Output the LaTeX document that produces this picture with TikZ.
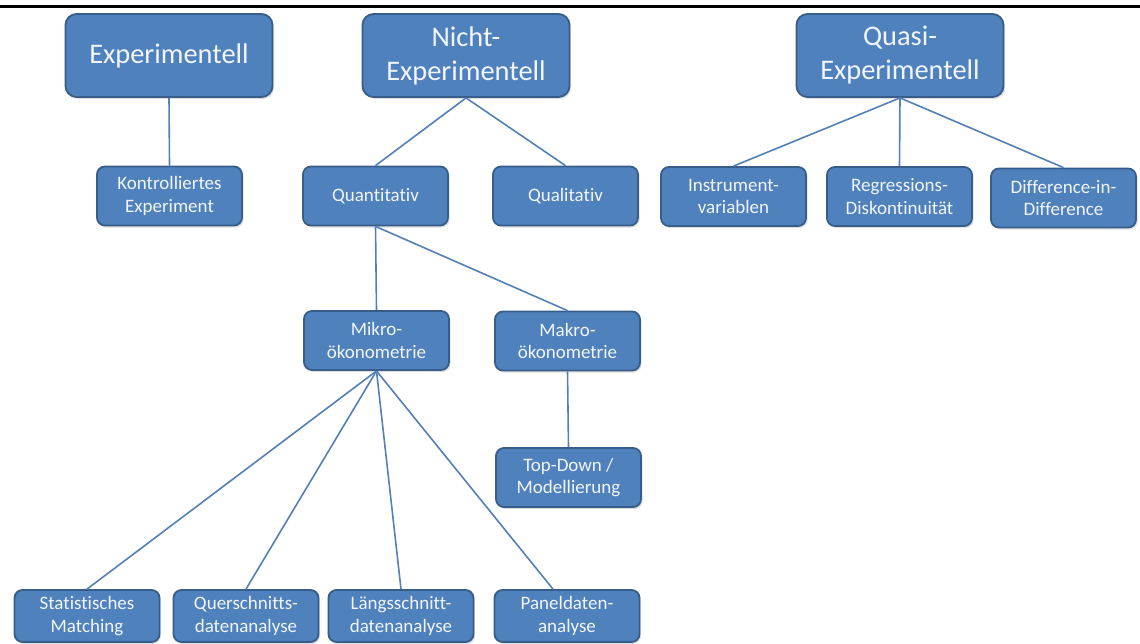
\documentclass[tikz,border=0pt]{standalone}
\usepackage{fontspec}
\setmainfont{Carlito}[Ligatures=NoCommon]
\usetikzlibrary{shadows}
\definecolor{boxfill}{RGB}{79,129,189}
\definecolor{boxdraw}{RGB}{56,93,138}
\definecolor{linkc}{RGB}{84,128,184}
\definecolor{txtc}{RGB}{242,246,252}
\tikzset{
  bigbox/.style={draw=boxdraw, line width=1.8pt, fill=boxfill, rounded corners=11pt,
    minimum width=207pt, minimum height=83pt, align=center, text=txtc,
    font=\fontsize{28.4}{34}\selectfont, inner sep=0pt,
    drop shadow={opacity=0.25, shadow xshift=1.5pt, shadow yshift=-2pt}},
  smallbox/.style={draw=boxdraw, line width=1.8pt, fill=boxfill, rounded corners=8pt,
    minimum width=145pt, minimum height=59pt, align=center, text=txtc,
    font=\fontsize{19}{22.8}\selectfont, inner sep=0pt,
    drop shadow={opacity=0.25, shadow xshift=1.5pt, shadow yshift=-2pt}},
  lowbox/.style={smallbox, minimum height=52pt},
  link/.style={draw=linkc, line width=1.6pt}
}
\begin{document}
\begin{tikzpicture}[x=1pt,y=-1pt]
\useasboundingbox (0,0) rectangle (1140,643);
\clip (0,0) rectangle (1140,643);
\fill[white] (0,0) rectangle (1140,643);
\draw[black, line width=3pt] (0,6.7) coordinate (rl) -- (1140,6.7) coordinate (rr);

\node[bigbox] (exp) at (169,55.5) {Experimentell};
\node[bigbox] (nicht) at (466,55.5) {Nicht-\\Experimentell};
\node[bigbox] (quasi) at (900,55.5) {Quasi-\\Experimentell};

\node[smallbox] (kontr) at (169.5,196) {Kontrolliertes\\Experiment};
\node[smallbox] (quant) at (375.5,196) {Quantitativ};
\node[smallbox] (qual) at (565.5,196) {Qualitativ};
\node[smallbox] (instr) at (733.5,196.5) {Instrument-\\variablen};
\node[smallbox] (regr) at (899.5,196.5) {Regressions-\\Diskontinuität};
\node[smallbox] (diff) at (1063.5,198) {Difference-in-\\Difference};

\node[smallbox] (mikro) at (376.5,340.5) {Mikro-\\ökonometrie};
\node[smallbox] (makro) at (567.5,341) {Makro-\\ökonometrie};
\node[smallbox] (top) at (568.5,477.5) {Top-Down /\\Modellierung};

\node[lowbox] (stat) at (87,616) {Statistisches\\Matching};
\node[lowbox] (quer) at (246,616) {Querschnitts-\\datenanalyse};
\node[lowbox] (laeng) at (401,616) {Längsschnitt-\\datenanalyse};
\node[lowbox] (panel) at (567,616) {Paneldaten-\\analyse};

\draw[link] (exp.south) -- (kontr.north);
\draw[link] (nicht.south) -- (quant.north);
\draw[link] (nicht.south) -- (qual.north);
\draw[link] (quasi.south) -- (instr.north);
\draw[link] (quasi.south) -- (regr.north);
\draw[link] (quasi.south) -- (diff.north);
\draw[link] (quant.south) -- (mikro.north);
\draw[link] (quant.south) -- (makro.north);
\draw[link] (makro.south) -- (top.north);
\draw[link] (mikro.south) -- (stat.north);
\draw[link] (mikro.south) -- (quer.north);
\draw[link] (mikro.south) -- (laeng.north);
\draw[link] (mikro.south) -- ([xshift=-14pt]panel.north);
\end{tikzpicture}
\end{document}
